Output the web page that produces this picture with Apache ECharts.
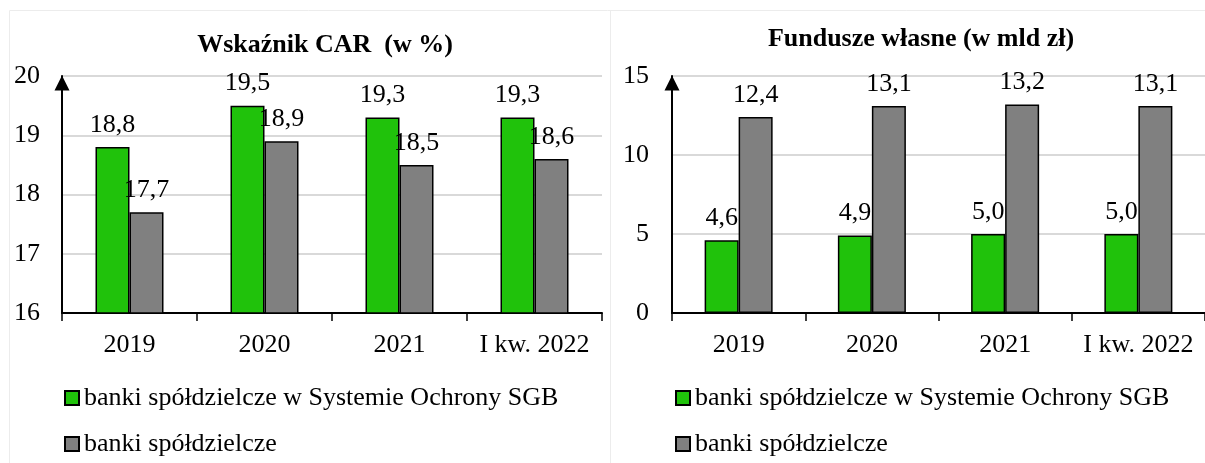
<!DOCTYPE html>
<html>
<head>
<meta charset="utf-8">
<script src="https://cdn.jsdelivr.net/npm/echarts@6/dist/echarts.min.js"></script>
<style>
  html, body { margin: 0; padding: 0; background: #fff; }
  #main { width: 1205px; height: 463px; }
</style>
</head>
<body>
<div id="main"></div>
<script>
// dane
var categories = ["2019", "2020", "2021", "I kw. 2022"];
var seriesNames = ["banki spółdzielcze w Systemie Ochrony SGB", "banki spółdzielcze"];
var carSGB = [18.8, 19.5, 19.3, 19.3];
var carBS = [17.7, 18.9, 18.5, 18.6];
var fundSGB = [4.6, 4.9, 5.0, 5.0];
var fundBS = [12.4, 13.1, 13.2, 13.1];
var titles = ["Wskaźnik CAR  (w %)", "Fundusze własne (w mld zł)"];

var FONT = "Liberation Serif";
var green = "#20c20b";
var gray = "#808080";

function fmt(p) {
  return p.value.toFixed(1).replace(".", ",");
}

function barSeries(name, data, color, idx) {
  return {
    name: name,
    type: "bar",
    xAxisIndex: idx,
    yAxisIndex: idx,
    data: data,
    barWidth: 34,
    barGap: "0%",
    itemStyle: { color: color, borderColor: "#000", borderWidth: 1.5 },
    label: {
      show: true,
      position: "top",
      distance: 9,
      formatter: fmt,
      fontFamily: FONT,
      fontSize: 26,
      color: "#000"
    }
  };
}

function xAxis(idx) {
  return {
    type: "category",
    gridIndex: idx,
    data: categories,
    axisLine: { lineStyle: { color: "#000", width: 2 } },
    axisTick: { show: true, length: 8, lineStyle: { color: "#000", width: 1.5 } },
    axisLabel: { interval: 0, fontFamily: FONT, fontSize: 26, color: "#000", margin: 19 }
  };
}

function yAxis(idx, min, max, interval, margin) {
  return {
    type: "value",
    gridIndex: idx,
    min: min,
    max: max,
    interval: interval,
    axisLine: {
      show: true,
      symbol: ["none", "triangle"],
      symbolSize: [15, 15],
      symbolOffset: [0, -7],
      lineStyle: { color: "#000", width: 2 }
    },
    axisTick: { show: false },
    splitLine: { lineStyle: { color: "#d9d9d9", width: 2 } },
    axisLabel: { fontFamily: FONT, fontSize: 26, color: "#000", margin: margin }
  };
}

function legend(left) {
  return {
    left: left,
    top: 380,
    orient: "vertical",
    itemWidth: 14,
    itemHeight: 14,
    itemGap: 20,
    icon: "rect",
    data: seriesNames,
    textStyle: { fontFamily: FONT, fontSize: 26, color: "#000", lineHeight: 25 }
  };
}

var chart = echarts.init(document.getElementById("main"));
chart.setOption({
  animation: false,
  title: [
    { text: titles[0], left: 320, top: 27, textAlign: "center",
      textStyle: { fontFamily: FONT, fontSize: 26, fontWeight: "bold", color: "#000" } },
    { text: titles[1], left: 916, top: 21, textAlign: "center",
      textStyle: { fontFamily: FONT, fontSize: 26, fontWeight: "bold", color: "#000" } }
  ],
  legend: [legend(59), legend(670)],
  grid: [
    { left: 62, top: 76, width: 540, height: 237 },
    { left: 672, top: 76, width: 534, height: 237 }
  ],
  xAxis: [xAxis(0), xAxis(1)],
  yAxis: [yAxis(0, 16, 20, 1, 22), yAxis(1, 0, 15, 5, 23)],
  series: [
    barSeries(seriesNames[0], carSGB, green, 0),
    barSeries(seriesNames[1], carBS, gray, 0),
    barSeries(seriesNames[0], fundSGB, green, 1),
    barSeries(seriesNames[1], fundBS, gray, 1)
  ],
  graphic: [
    { type: "rect", shape: { x: 9.5, y: 10.5, width: 1210, height: 470 },
      style: { fill: "none", stroke: "#ececec", lineWidth: 1 }, silent: true },
    { type: "line", shape: { x1: 610.5, y1: 10, x2: 610.5, y2: 470 },
      style: { stroke: "#ececec", lineWidth: 1 }, silent: true }
  ]
});
</script>
</body>
</html>
